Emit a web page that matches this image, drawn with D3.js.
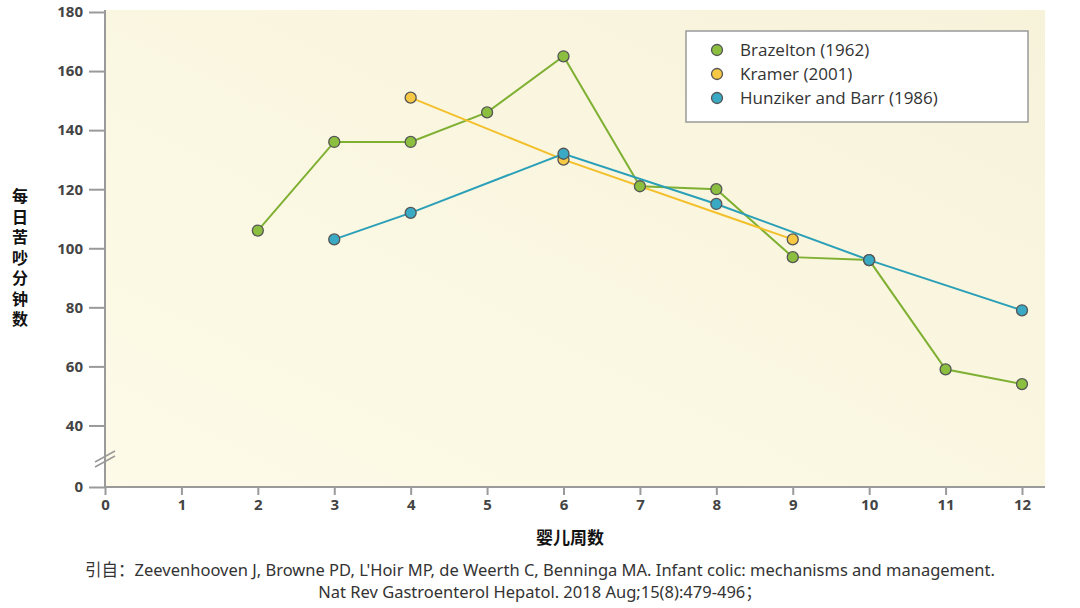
<!DOCTYPE html>
<html>
<head>
<meta charset="utf-8">
<script src="https://cdn.jsdelivr.net/npm/d3@7/dist/d3.min.js"></script>
<style>body{margin:0;background:#fff}</style>
</head>
<body>
<svg id="mainsvg" width="1080" height="608"></svg>
<script>
// data
const weeks = [0,1,2,3,4,5,6,7,8,9,10,11,12];
const yTicks = [0,40,60,80,100,120,140,160,180];
const brazelton = [[2,106],[3,136],[4,136],[5,146],[6,165],[7,121],[8,120],[9,97],[10,96],[11,59],[12,54]];
const kramer = [[4,151],[6,130],[9,103]];
const hunziker = [[3,103],[4,112],[6,132],[8,115],[10,96],[12,79]];
const seriesNames = ['Brazelton (1962)','Kramer (2001)','Hunziker and Barr (1986)'];
const lineColors = ['#7fb032','#f3c02b','#2a9fb8'];
const dotColors = ['#8cbf3f','#f7c843','#3aaac4'];

const svg = d3.select('#mainsvg');
const font = '"Open Sans", Lato, sans-serif';

// broken y axis: 0 at bottom, then 30..180
const xScale = d3.scaleLinear().domain([0,12]).range([105,1022]);
const yScale = d3.scaleLinear().domain([0,30,180]).range([487,455,12]);

// background gradient
const defs = svg.append('defs');
const grad = defs.append('linearGradient').attr('id','bg')
  .attr('x1','0').attr('y1','1').attr('x2','1').attr('y2','0');
grad.append('stop').attr('offset','0%').attr('stop-color','#fdfbe8');
grad.append('stop').attr('offset','100%').attr('stop-color','#f7f2da');
svg.append('rect').attr('x',105).attr('y',10).attr('width',940).attr('height',477).attr('fill','url(#bg)');

// axes
const xAxis = d3.axisBottom(xScale).tickValues(weeks).tickSize(8).tickSizeOuter(0).tickPadding(4);
const gx = svg.append('g').attr('transform','translate(0,487)').call(xAxis);
gx.select('.domain').attr('d','M105,0H1045');
const yAxis = d3.axisLeft(yScale).tickValues(yTicks).tickSize(16).tickSizeOuter(0).tickPadding(6);
const gy = svg.append('g').attr('transform','translate(105,0)').call(yAxis);
gy.select('.domain').attr('d','M0,487V10');
svg.selectAll('.domain, .tick line').attr('stroke','#9a9a9a').attr('stroke-width',2);
svg.selectAll('.tick text').attr('fill','#444').attr('font-size',15).attr('font-weight','bold').attr('font-family',font);
// break marks
[0,5].forEach(o => svg.append('line').attr('x1',95).attr('y1',462+o).attr('x2',115).attr('y2',451+o)
  .attr('stroke','#999').attr('stroke-width',1.5));

// series
const all = [brazelton, kramer, hunziker];
const line = d3.line().x(d => xScale(d[0])).y(d => yScale(d[1]));
all.forEach((s,i) => {
  svg.append('path').attr('d',line(s)).attr('fill','none').attr('stroke',lineColors[i]).attr('stroke-width',2);
});
all.forEach((s,i) => {
  svg.append('g').selectAll('circle').data(s).join('circle')
    .attr('cx',d => xScale(d[0])).attr('cy',d => yScale(d[1])).attr('r',5.5)
    .attr('fill',dotColors[i]).attr('stroke','#555').attr('stroke-width',1.3);
});

// legend
svg.append('rect').attr('x',686).attr('y',31).attr('width',342).attr('height',91)
  .attr('fill','#fff').attr('stroke','#999').attr('stroke-width',1.5);
seriesNames.forEach((n,i) => {
  svg.append('circle').attr('cx',717).attr('cy',50+i*24).attr('r',5.5)
    .attr('fill',dotColors[i]).attr('stroke','#555').attr('stroke-width',1.3);
  svg.append('text').attr('x',740).attr('y',56+i*24).text(n)
    .attr('font-family',font).attr('font-size',17).attr('fill','#333');
});

// axis titles
const cjk = '"Noto Sans CJK SC", sans-serif';
svg.append('text').attr('x',570).attr('y',544).attr('text-anchor','middle').text('婴儿周数')
  .attr('font-family',cjk).attr('font-weight','bold').attr('font-size',17).attr('fill','#111');
'每日苦吵分钟数'.split('').forEach((c,i) => {
  svg.append('text').attr('x',20).attr('y',202+i*20.5).attr('text-anchor','middle').text(c)
    .attr('font-family',cjk).attr('font-weight','bold').attr('font-size',16).attr('fill','#111');
});
// citation
svg.append('text').attr('x',540).attr('y',576).attr('text-anchor','middle')
  .text("引自：Zeevenhooven J, Browne PD, L'Hoir MP, de Weerth C, Benninga MA. Infant colic: mechanisms and management.")
  .attr('font-family','"Noto Sans", "Noto Sans CJK SC", sans-serif').attr('font-size',16.5).attr('fill','#333');
svg.append('text').attr('x',540).attr('y',598).attr('text-anchor','middle')
  .text('Nat Rev Gastroenterol Hepatol. 2018 Aug;15(8):479-496；')
  .attr('font-family','"Noto Sans", "Noto Sans CJK SC", sans-serif').attr('font-size',16.5).attr('fill','#333');
</script>
</body>
</html>
